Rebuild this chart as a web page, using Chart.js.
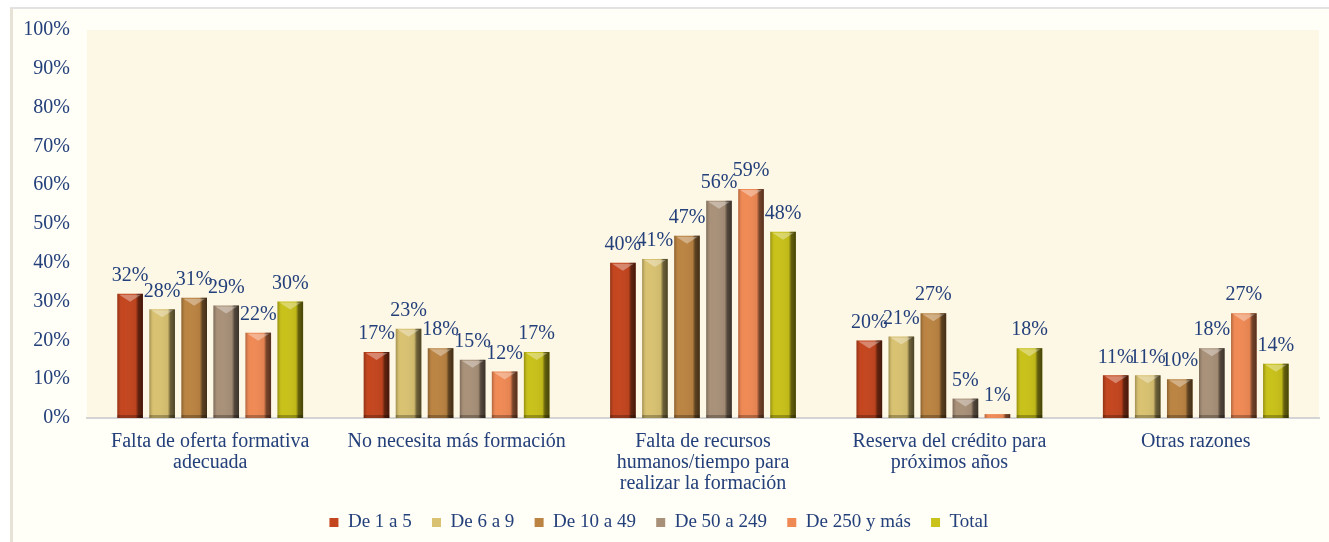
<!DOCTYPE html>
<html>
<head>
<meta charset="utf-8">
<script src="https://cdn.jsdelivr.net/npm/chart.js@4/dist/chart.umd.min.js"></script>
<style>
    html, body { margin: 0; padding: 0; background: #ffffff; }
    #card {
        position: absolute; left: 10px; top: 7px; width: 1319px; height: 535px;
        background: #fffef7;
        border-top: 2px solid #e2e2e2; border-left: 3px solid #e6e2d6;
        box-sizing: border-box;
    }
    canvas { display: block; }
</style>
</head>
<body>
<div id="card"><canvas id="chart"></canvas></div>
<script>
const categories = [
    ['Falta de oferta formativa', 'adecuada'],
    'No necesita más formación',
    ['Falta de recursos', 'humanos/tiempo para', 'realizar la formación'],
    ['Reserva del crédito para', 'próximos años'],
    'Otras razones'
];
const seriesNames = ['De 1 a 5', 'De 6 a 9', 'De 10 a 49', 'De 50 a 249', 'De 250 y más', 'Total'];
const de1a5 = [32, 17, 40, 20, 11];
const de6a9 = [28, 23, 41, 21, 11];
const de10a49 = [31, 18, 47, 27, 10];
const de50a249 = [29, 15, 56, 5, 18];
const de250 = [22, 12, 59, 1, 27];
const total = [30, 17, 48, 18, 14];
const yTicks = [0, 10, 20, 30, 40, 50, 60, 70, 80, 90, 100];

const seriesValues = [de1a5, de6a9, de10a49, de50a249, de250, total];
const colors = ['#c4461f', '#d9c271', '#bb8442', '#a99179', '#f08a55', '#c9c21a'];

const serif = '"Liberation Serif", "DejaVu Serif", serif';
const navy = '#24407a';

// fondo crema del area de trazado
const plotBg = {
    id: 'plotBg',
    beforeDraw(chart) {
        const { ctx, chartArea: a } = chart;
        ctx.save();
        ctx.fillStyle = '#fdf7e6';
        ctx.fillRect(a.left, a.top, a.right - a.left, a.bottom - a.top);
        ctx.restore();
    }
};

// efecto biselado y etiquetas de valor
const bevel = {
    id: 'bevel',
    afterDatasetsDraw(chart) {
        const ctx = chart.ctx;
        ctx.save();
        chart.data.datasets.forEach((ds, di) => {
            const meta = chart.getDatasetMeta(di);
            meta.data.forEach((bar, i) => {
                const x0 = bar.x - bar.width / 2;
                const x1 = bar.x + bar.width / 2;
                const top = bar.y;
                const bottom = bar.base;
                const h = bottom - top;
                const g = ctx.createLinearGradient(x0, 0, x1, 0);
                g.addColorStop(0, 'rgba(0,0,0,0.25)');
                g.addColorStop(0.1, 'rgba(0,0,0,0.05)');
                g.addColorStop(0.2, 'rgba(255,255,255,0.0)');
                g.addColorStop(0.72, 'rgba(0,0,0,0.05)');
                g.addColorStop(0.82, 'rgba(0,0,0,0.5)');
                g.addColorStop(1, 'rgba(0,0,0,0.65)');
                ctx.fillStyle = g;
                ctx.fillRect(x0, top, x1 - x0, h);
                if (h > 6) {
                    const cap = Math.min(8, h / 2);
                    ctx.fillStyle = 'rgba(255,255,255,0.35)';
                    ctx.beginPath();
                    ctx.moveTo(x0 + 2, top + 1);
                    ctx.lineTo(x1 - 2, top + 1);
                    ctx.lineTo(bar.x, top + cap);
                    ctx.closePath();
                    ctx.fill();
                    ctx.fillStyle = 'rgba(0,0,0,0.25)';
                    ctx.fillRect(x0, bottom - 3, x1 - x0, 3);
                }
                ctx.fillStyle = navy;
                ctx.font = '20px ' + serif;
                ctx.textAlign = 'center';
                ctx.textBaseline = 'bottom';
                ctx.fillText(ds.data[i] + '%', bar.x, top - 8);
            });
        });
        ctx.restore();
    }
};

const datasets = seriesNames.map((name, i) => ({
    label: name,
    data: seriesValues[i],
    backgroundColor: colors[i],
    borderWidth: 0,
    barPercentage: 0.8,
    categoryPercentage: 0.78
}));

new Chart(document.getElementById('chart'), {
    type: 'bar',
    data: { labels: categories, datasets: datasets },
    options: {
        responsive: true,
        maintainAspectRatio: false,
        animation: false,
        layout: { padding: { top: 0, right: 10, left: 0, bottom: 0 } },
        plugins: {
            tooltip: { enabled: false },
            legend: {
                position: 'bottom',
                labels: {
                    boxWidth: 9,
                    boxHeight: 9,
                    padding: 6,
                    color: navy,
                    font: { family: serif, size: 19 },
                    generateLabels(chart) {
                        const items = Chart.defaults.plugins.legend.labels.generateLabels(chart);
                        items.forEach(it => { it.text = it.text + '\u00a0\u00a0\u00a0'; });
                        return items;
                    }
                }
            }
        },
        scales: {
            x: {
                grid: { display: false, drawTicks: false },
                border: { display: true, color: '#d4d4d4', width: 2 },
                ticks: {
                    color: navy,
                    padding: 13,
                    maxRotation: 0,
                    autoSkip: false,
                    font: { family: serif, size: 20, lineHeight: 1.05 }
                }
            },
            y: {
                min: 0,
                max: 100,
                afterBuildTicks(axis) {
                    axis.ticks = yTicks.map(v => ({ value: v }));
                },
                afterFit(axis) {
                    axis.width = 74;
                },
                grid: { display: false, drawTicks: false },
                border: { display: false },
                ticks: {
                    color: navy,
                    padding: 17,
                    font: { family: serif, size: 20, lineHeight: 0.4 },
                    callback: v => v + '%'
                }
            }
        }
    },
    plugins: [plotBg, bevel]
});
</script>
</body>
</html>
